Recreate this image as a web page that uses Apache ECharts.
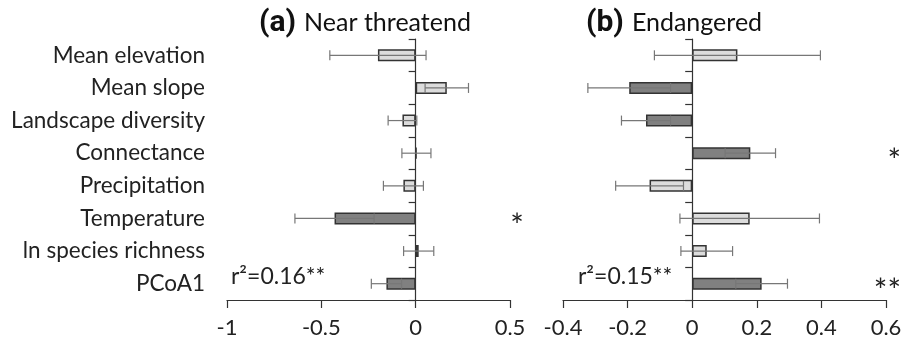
<!DOCTYPE html>
<html>
<head>
<meta charset="utf-8">
<script src="https://cdn.jsdelivr.net/npm/echarts@6/dist/echarts.min.js"></script>
<style>
  html, body { margin: 0; padding: 0; background: #fff; }
  #chart { width: 905px; height: 347px; }
</style>
</head>
<body>
<div id="chart"></div>
<script>
// predictors, top to bottom
const categories = ['Mean elevation', 'Mean slope', 'Landscape diversity', 'Connectance',
  'Precipitation', 'Temperature', 'ln species richness', 'PCoA1'];

// (a) Near threatend
const coefA = [-0.2, 0.165, -0.07, 0.004, -0.065, -0.43, 0.016, -0.155];
const errA = [0.255, 0.115, 0.076, 0.077, 0.106, 0.21, 0.08, 0.08];
const sigA = ['', '', '', '', '', '*', '', ''];
const darkA = [false, false, false, false, false, true, false, true];

// (b) Endangered
const coefB = [0.14, -0.195, -0.143, 0.18, -0.132, 0.178, 0.045, 0.215];
const errB = [0.257, 0.128, 0.076, 0.078, 0.105, 0.216, 0.08, 0.08];
const sigB = ['', '', '', '*', '', '', '', '**'];
const darkB = [false, true, true, true, false, false, false, true];

const r2A = 'r²=0.16**';
const r2B = 'r²=0.15**';

const FONT = 'Lato';
const TXT = '#222';
const LINE = '#333';
const LIGHT = '#dcdcdc';
const DARK = '#808080';
const ERR = '#777';

const chart = echarts.init(document.getElementById('chart'), null, { renderer: 'canvas' });

function errRender(params, api) {
  const cat = api.value(0);
  const p1 = api.coord([api.value(1), cat]);
  const p2 = api.coord([api.value(2), cat]);
  const h = 5;
  const style = { stroke: ERR, lineWidth: 1.2 };
  return {
    type: 'group',
    children: [
      { type: 'line', shape: { x1: p1[0], y1: p1[1], x2: p2[0], y2: p2[1] }, style },
      { type: 'line', shape: { x1: p1[0], y1: p1[1] - h, x2: p1[0], y2: p1[1] + h }, style },
      { type: 'line', shape: { x1: p2[0], y1: p2[1] - h, x2: p2[0], y2: p2[1] + h }, style },
    ],
  };
}

function sigRender(sig, xMax, dx, align) {
  return (params, api) => {
    const i = api.value(0);
    const p = api.coord([xMax, i]);
    return {
      type: 'text',
      style: {
        text: sig[i], x: p[0] + dx, y: p[1] + 8,
        align, verticalAlign: 'middle',
        font: '32px ' + FONT, fill: TXT,
      },
    };
  };
}

function barData(coef, dark) {
  return coef.map((v, i) => ({
    value: v,
    itemStyle: { color: dark[i] ? DARK : LIGHT, borderColor: LINE, borderWidth: 1.5 },
  }));
}

function errData(coef, err) {
  return coef.map((v, i) => [i, v - err[i], v + err[i]]);
}

function sigData(sig) {
  return sig.map((s, i) => (s ? [i] : null)).filter(d => d);
}

const valueAxis = (grid, min, max, interval) => ({
  type: 'value',
  gridIndex: grid,
  min, max, interval,
  axisLine: { show: true, onZero: false, lineStyle: { color: LINE, width: 1.2 } },
  axisTick: { show: true, inside: false, length: 8, lineStyle: { color: LINE, width: 1.2 } },
  axisLabel: { color: TXT, fontFamily: FONT, fontSize: 22, margin: 17 },
  splitLine: { show: false },
});

const catAxis = grid => ({
  type: 'category',
  gridIndex: grid,
  data: categories,
  inverse: true,
  axisLine: { show: true, onZero: true, lineStyle: { color: LINE, width: 1.2 } },
  axisTick: { show: true, length: 7, lineStyle: { color: LINE, width: 1.2 } },
  axisLabel: { show: false },
});

const titleRich = {
  b: { fontFamily: 'Roboto', fontSize: 30, fontWeight: 'bold', color: '#111', padding: [0, 8, 0, 0] },
  n: { fontFamily: FONT, fontSize: 25, fontWeight: 'normal', color: '#111' },
};

chart.setOption({
  backgroundColor: '#fff',
  animation: false,
  title: [
    { text: '{b|(a)}{n|Near threatend}', left: 254, top: 3, textStyle: { rich: titleRich } },
    { text: '{b|(b)}{n|Endangered}', left: 581, top: 3, textStyle: { rich: titleRich } },
  ],
  grid: [
    { left: 227, right: 395, top: 39, bottom: 47 },
    { left: 563, right: 19, top: 39, bottom: 47 },
  ],
  xAxis: [valueAxis(0, -1, 0.5, 0.5), valueAxis(1, -0.4, 0.6, 0.2)],
  yAxis: [
    catAxis(0),
    catAxis(1),
    {
      type: 'category', gridIndex: 0, data: categories, inverse: true, position: 'left',
      axisLine: { show: false, onZero: false }, axisTick: { show: false },
      axisLabel: { color: TXT, fontFamily: FONT, fontSize: 22.5, margin: 22 },
    },
  ],
  graphic: [
    { type: 'text', left: 231, top: 265, style: { text: r2A, font: '23px ' + FONT, fill: TXT } },
    { type: 'text', left: 578, top: 265, style: { text: r2B, font: '23px ' + FONT, fill: TXT } },
  ],
  series: [
    { type: 'bar', xAxisIndex: 0, yAxisIndex: 0, barWidth: 12, data: barData(coefA, darkA) },
    { type: 'bar', xAxisIndex: 1, yAxisIndex: 1, barWidth: 12, data: barData(coefB, darkB) },
    { type: 'custom', xAxisIndex: 0, yAxisIndex: 0, renderItem: errRender,
      encode: { x: [1, 2], y: 0 }, data: errData(coefA, errA), z: 5 },
    { type: 'custom', xAxisIndex: 1, yAxisIndex: 1, renderItem: errRender,
      encode: { x: [1, 2], y: 0 }, data: errData(coefB, errB), z: 5 },
    { type: 'custom', xAxisIndex: 0, yAxisIndex: 0, renderItem: sigRender(sigA, 0.5, 7, 'center'),
      encode: { y: 0 }, data: sigData(sigA), clip: false },
    { type: 'custom', xAxisIndex: 1, yAxisIndex: 1, renderItem: sigRender(sigB, 0.6, 15, 'right'),
      encode: { y: 0 }, data: sigData(sigB), clip: false },
  ],
});
</script>
</body>
</html>
